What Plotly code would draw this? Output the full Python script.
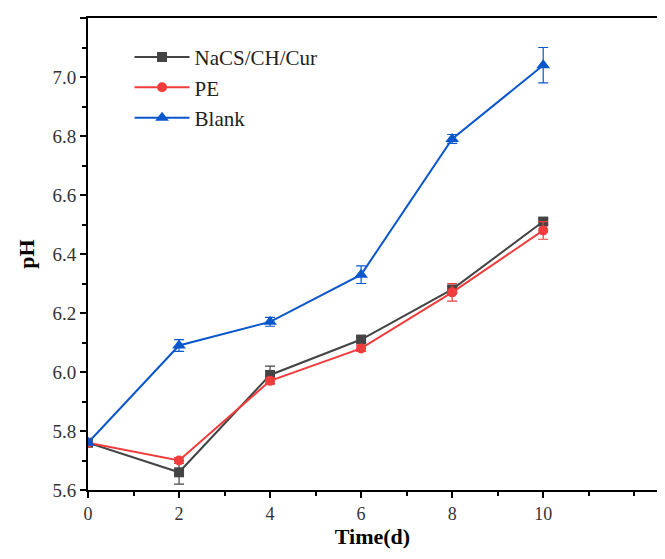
import plotly.graph_objects as go

days = [0, 2, 4, 6, 8, 10]

nacs_ph = [5.76, 5.66, 5.99, 6.11, 6.28, 6.51]
nacs_err = [0.005, 0.04, 0.03, 0.01, 0.01, 0.01]

pe_ph = [5.76, 5.70, 5.97, 6.08, 6.27, 6.48]
pe_err = [0.005, 0.01, 0.01, 0.01, 0.03, 0.03]

blank_ph = [5.76, 6.09, 6.17, 6.33, 6.79, 7.04]
blank_err = [0.005, 0.02, 0.015, 0.03, 0.015, 0.06]

series = [
    ("NaCS/CH/Cur", nacs_ph, nacs_err, "#444444", "square", 10),
    ("PE", pe_ph, pe_err, "#f03c3c", "circle", 10),
    ("Blank", blank_ph, blank_err, "#0a57cc", "triangle-up", 12),
]

fig = go.Figure()
for name, y, err, color, sym, msize in series:
    fig.add_trace(go.Scatter(
        x=days, y=y, name=name, mode="lines+markers",
        line=dict(color=color, width=2),
        marker=dict(symbol=sym, size=msize, color=color),
        error_y=dict(type="data", array=err, visible=True, color=color,
                     thickness=1.2, width=5),
    ))

font_family = "Liberation Serif"
fig.update_layout(
    width=649, height=543,
    margin=dict(l=80, r=0, t=10, b=61),
    paper_bgcolor="white", plot_bgcolor="white",
    font=dict(family=font_family, color="#222222"),
    showlegend=True,
    legend=dict(x=0.073, y=0.96, xanchor="left", yanchor="top",
                bgcolor="rgba(0,0,0,0)", font=dict(size=21, family=font_family, color="#222222"),
                itemwidth=55, tracegroupgap=0),
    xaxis=dict(
        range=[0, 12.5], tickvals=[0, 2, 4, 6, 8, 10],
        showline=True, linecolor="black", linewidth=2, mirror=True,
        ticks="outside", ticklen=6, tickwidth=2, tickcolor="black",
        minor=dict(ticks="outside", ticklen=4, tickwidth=2, tickcolor="black", dtick=1, tick0=0),
        showgrid=False, zeroline=False, automargin=False,
        tickfont=dict(size=18, family=font_family, color="#333333"),
        title=dict(text="<b>Time(d)</b>", font=dict(size=22, family=font_family, color="black"), standoff=6),
    ),
    yaxis=dict(
        range=[5.6, 7.2], dtick=0.2, tick0=5.6, tickformat=".1f",
        showline=True, linecolor="black", linewidth=2, mirror=False,
        ticks="outside", ticklen=6, tickwidth=2, tickcolor="black",
        minor=dict(ticks="outside", ticklen=4, tickwidth=2, tickcolor="black", dtick=0.1, tick0=5.6),
        showgrid=False, zeroline=False, automargin=False,
        tickfont=dict(size=19, family=font_family, color="#333333"),
        title=dict(text="<b>pH</b>", font=dict(size=22, family=font_family, color="black"), standoff=12),
    ),
)

fig.write_html("out.html")
